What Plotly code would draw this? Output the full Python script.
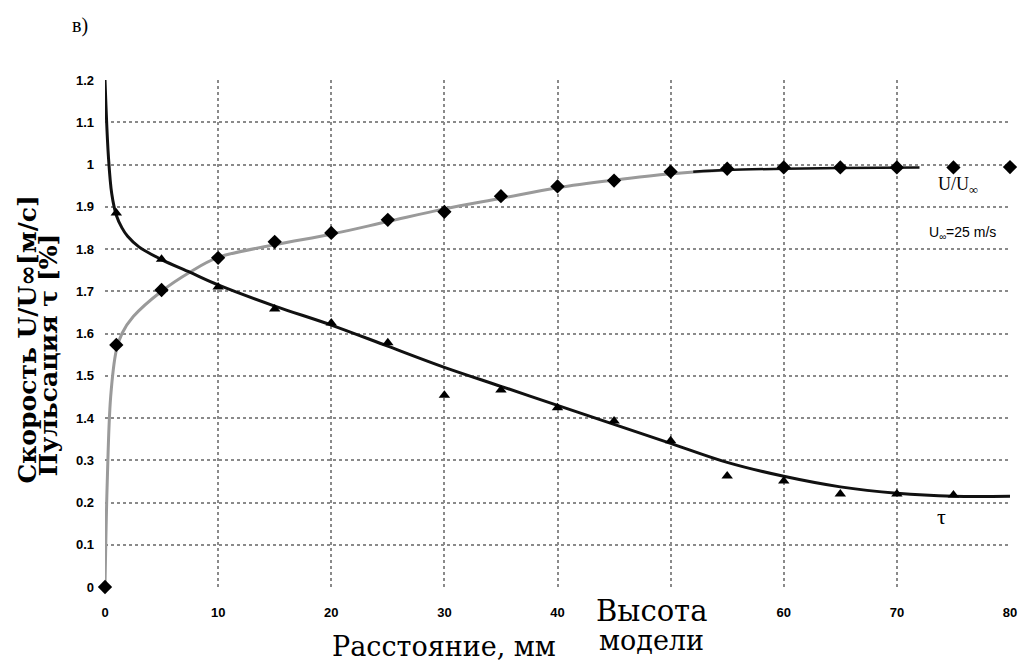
import plotly.graph_objects as go

# ---- data ----
u_x = [0, 1, 5, 10, 15, 20, 25, 30, 35, 40, 45, 50, 55, 60, 65, 70, 75, 80]
u_y = [0.0, 0.573, 0.703, 0.779, 0.817, 0.838, 0.869, 0.888, 0.925, 0.948, 0.962, 0.983, 0.99, 0.993, 0.993, 0.993, 0.993, 0.994]

tau_x = [1, 5, 10, 15, 20, 25, 30, 35, 40, 45, 50, 55, 60, 65, 70, 75]
tau_y = [0.885, 0.776, 0.71, 0.658, 0.625, 0.578, 0.454, 0.466, 0.424, 0.393, 0.346, 0.263, 0.251, 0.22, 0.22, 0.218]

u_fit_x = [0, 0.2, 0.5, 1, 1.5, 2.5, 5, 7.5, 10, 15, 20, 25, 30, 35, 40, 45, 50, 55]
u_fit_y = [0.0, 0.25, 0.45, 0.56, 0.6, 0.64, 0.70, 0.745, 0.78, 0.81, 0.835, 0.865, 0.895, 0.92, 0.945, 0.963, 0.978, 0.987]
u_fit_dark_x = [52, 55, 60, 65, 72]
u_fit_dark_y = [0.983, 0.987, 0.99, 0.992, 0.993]

tau_fit_x = [0, 0.3, 0.6, 1, 1.5, 2, 3, 5, 7.5, 10, 15, 20, 25, 30, 35, 40, 45, 50, 55, 60, 65, 70, 75, 80]
tau_fit_y = [1.2, 1.02, 0.93, 0.88, 0.85, 0.83, 0.805, 0.775, 0.745, 0.715, 0.665, 0.62, 0.57, 0.52, 0.475, 0.43, 0.385, 0.34, 0.295, 0.262, 0.237, 0.222, 0.215, 0.215]

x_ticks = [0, 10, 20, 30, 40, 60, 70, 80]
x_ticktext = ["0", "10", "20", "30", "40", "60", "70", "80"]
y_ticks = [0, 0.1, 0.2, 0.3, 0.4, 0.5, 0.6, 0.7, 0.8, 0.9, 1.0, 1.1, 1.2]
y_ticktext = ["0", "0.1", "0.2", "0.3", "1.4", "1.5", "1.6", "1.7", "1.8", "1.9", "1", "1.1", "1.2"]

fig = go.Figure()
fig.add_trace(go.Scatter(x=u_fit_x, y=u_fit_y, mode="lines", line=dict(color="#9a9a9a", width=3, shape="spline"),
                         showlegend=False, hoverinfo="skip"))
fig.add_trace(go.Scatter(x=u_fit_dark_x, y=u_fit_dark_y, mode="lines", line=dict(color="#111111", width=2.5, shape="spline"),
                         showlegend=False, hoverinfo="skip"))
fig.add_trace(go.Scatter(x=tau_fit_x, y=tau_fit_y, mode="lines", line=dict(color="#111111", width=3, shape="spline"),
                         showlegend=False, hoverinfo="skip"))
fig.add_trace(go.Scatter(x=u_x, y=u_y, mode="markers", marker=dict(symbol="diamond", size=11, color="#000"),
                         name="U/U∞", showlegend=False, cliponaxis=False))
fig.add_trace(go.Scatter(x=tau_x, y=tau_y, mode="markers", marker=dict(symbol="triangle-up", size=10, color="#000"),
                         name="τ", showlegend=False, cliponaxis=False))

tickfont = dict(family="Liberation Sans", size=13, color="#000", weight="bold")
grid = dict(showgrid=True, gridcolor="#8a8a8a", griddash="dot", gridwidth=1.5)
fig.update_xaxes(range=[0, 80], tickvals=x_ticks, ticktext=x_ticktext, **grid,
                 minor=dict(dtick=10, tick0=0, showgrid=True, gridcolor="#8a8a8a", griddash="dot", gridwidth=1.5, ticks=""),
                 zeroline=False, showline=False, tickfont=tickfont, ticks="", ticklabelstandoff=16,
                 ticklabeloverflow="allow")
fig.update_yaxes(range=[0, 1.2], tickvals=y_ticks, ticktext=y_ticktext, **grid,
                 zeroline=False, showline=False, tickfont=tickfont, ticks="", ticklabelstandoff=10)

serif = "Liberation Serif"
wserif = "DejaVu Serif"

def px(X):
    return (X - 105) / 912

def py(Y):
    return (587 - Y) / 507

annotations = [
    dict(xref="paper", yref="paper", x=px(80), y=py(26), text="в)", showarrow=False,
         font=dict(family=serif, size=20, color="#000"), xanchor="center", yanchor="middle"),
    dict(xref="paper", yref="paper", x=px(965), y=py(186), text="U/U<sub>∞</sub>", showarrow=False,
         font=dict(family=serif, size=18, color="#000"), xanchor="center", yanchor="middle"),
    dict(xref="paper", yref="paper", x=px(969), y=py(233), text="U<sub>∞</sub>=25 m/s", showarrow=False,
         font=dict(family="Liberation Sans", size=14, color="#000"), xanchor="center", yanchor="middle"),
    dict(xref="paper", yref="paper", x=px(948), y=py(516), text="τ", showarrow=False,
         font=dict(family=serif, size=22, color="#000"), xanchor="center", yanchor="middle"),
    dict(xref="paper", yref="paper", x=px(447), y=py(646), text="Расстояние, мм", showarrow=False,
         font=dict(family=wserif, size=27, color="#000"), xanchor="center", yanchor="middle"),
    dict(xref="paper", yref="paper", x=px(656), y=py(611), text="Высота", showarrow=False,
         font=dict(family=wserif, size=29, color="#000"), xanchor="center", yanchor="middle"),
    dict(xref="paper", yref="paper", x=px(656), y=py(640), text="модели", showarrow=False,
         font=dict(family=wserif, size=27, color="#000"), xanchor="center", yanchor="middle"),
    dict(xref="paper", yref="paper", x=px(26), y=py(340), text="<b>Скорость U/U∞[м/с]</b>",
         showarrow=False, textangle=-90, font=dict(family=wserif, size=25, color="#000"),
         xanchor="center", yanchor="middle"),
    dict(xref="paper", yref="paper", x=px(48), y=py(355), text="<b>Пульсация τ [%]</b>",
         showarrow=False, textangle=-90, font=dict(family=wserif, size=25, color="#000"),
         xanchor="center", yanchor="middle"),
]

fig.update_layout(
    width=1022, height=666,
    margin=dict(l=105, r=5, t=80, b=79),
    plot_bgcolor="white", paper_bgcolor="white",
    annotations=annotations,
)

fig.write_html("out.html", config={"displayModeBar": False},
               post_script="document.body.style.margin='0';document.body.style.overflow='hidden';")
